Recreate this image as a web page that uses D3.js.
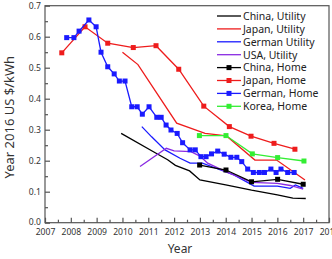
<!DOCTYPE html>
<html><head><meta charset="utf-8">
<script src="https://cdn.jsdelivr.net/npm/d3@7"></script>
<style>body{margin:0;background:#fff}svg{display:block}text{font-family:"Noto Sans",sans-serif}</style>
</head><body><svg id="c" width="332" height="259"></svg>
<script>
const xTicks = [2007,2008,2009,2010,2011,2012,2013,2014,2015,2016,2017,2018];
const yTicks = [0.0,0.1,0.2,0.3,0.4,0.5,0.6,0.7];

const chinaUtilityX = [2009.95,2011.2,2011.75,2012.05,2012.6,2013.0,2014.0,2015.0,2016.0,2016.6,2017.1];
const chinaUtilityY = [0.288,0.229,0.203,0.185,0.167,0.138,0.122,0.105,0.09,0.079,0.078];
const japanUtilityX = [2010.0,2010.6,2012.1,2013.2,2014.03,2015.13,2015.97,2017.07];
const japanUtilityY = [0.55,0.51,0.321,0.288,0.28,0.202,0.202,0.138];
const germanUtilityX = [2010.75,2011.13,2011.65,2012.23,2012.62,2013.1,2013.8,2014.3,2015.1,2016.0,2016.5,2016.7,2017.0];
const germanUtilityY = [0.31,0.277,0.235,0.208,0.192,0.192,0.17,0.155,0.118,0.118,0.111,0.122,0.111];
const usaUtilityX = [2010.68,2011.7,2012.0,2012.65,2013.0,2013.3,2014.0,2015.0,2016.0,2016.5,2017.0];
const usaUtilityY = [0.181,0.24,0.232,0.229,0.215,0.192,0.165,0.13,0.127,0.12,0.108];

const chinaHomeX = [2012.99,2014.01,2015.0,2016.01,2017.0];
const chinaHomeY = [0.186,0.17,0.132,0.14,0.124];
const japanHomeX = [2007.65,2008.55,2009.43,2010.42,2011.3,2012.18,2013.15,2014.14,2014.98,2015.87,2016.68];
const japanHomeY = [0.548,0.632,0.579,0.565,0.571,0.495,0.376,0.31,0.279,0.256,0.237];
const germanHomeX = [2007.84,2008.12,2008.32,2008.7,2008.98,2009.17,2009.43,2009.68,2009.88,2010.1,2010.36,2010.57,2010.77,2011.03,2011.33,2011.5,2011.69,2011.88,2012.12,2012.33,2012.62,2012.82,2013.04,2013.24,2013.45,2013.69,2013.94,2014.2,2014.43,2014.62,2014.85,2015.07,2015.3,2015.5,2015.75,2015.95,2016.14,2016.4,2016.65];
const germanHomeY = [0.597,0.597,0.618,0.654,0.632,0.55,0.503,0.48,0.457,0.457,0.374,0.374,0.35,0.374,0.34,0.34,0.315,0.299,0.288,0.258,0.235,0.235,0.213,0.213,0.222,0.231,0.221,0.211,0.211,0.197,0.173,0.162,0.162,0.162,0.173,0.162,0.173,0.162,0.162];
const koreaHomeX = [2012.98,2014.01,2015.03,2016.01,2017.03];
const koreaHomeY = [0.281,0.281,0.222,0.21,0.199];

const seriesNames = ["China, Utility","Japan, Utility","German  Utility","USA, Utility","China, Home","Japan, Home","German, Home","Korea, Home"];
const seriesColors = ["#000000","#ee1c1c","#1a1aff","#8a2be2","#000000","#ee1c1c","#1a1aff","#33ee33"];
const seriesMarkers = [false,false,false,false,true,true,true,true];
const seriesX = [chinaUtilityX,japanUtilityX,germanUtilityX,usaUtilityX,chinaHomeX,japanHomeX,germanHomeX,koreaHomeX];
const seriesY = [chinaUtilityY,japanUtilityY,germanUtilityY,usaUtilityY,chinaHomeY,japanHomeY,germanHomeY,koreaHomeY];

const svg = d3.select("#c");
const L=45,R=329,T=5.7,B=222.7;
const x = d3.scaleLinear().domain([2007,2018]).range([L,R]);
const y = d3.scaleLinear().domain([0,0.7]).range([B,T]);
const axisCol="#555";

svg.append("rect").attr("x",L).attr("y",T).attr("width",R-L).attr("height",B-T)
  .attr("fill","none").attr("stroke",axisCol).attr("stroke-width",1.2);

const xa = svg.append("g").attr("transform",`translate(0,${B})`)
  .call(d3.axisBottom(x).tickValues(xTicks).tickFormat(d3.format("d")).tickSize(-5).tickPadding(6.5));
const xm = svg.append("g").attr("transform",`translate(0,${B})`)
  .call(d3.axisBottom(x).tickValues(xTicks.slice(0,-1).map(d=>d+0.5)).tickFormat("").tickSize(-3));
const ya = svg.append("g").attr("transform",`translate(${L},0)`)
  .call(d3.axisLeft(y).tickValues(yTicks).tickFormat(d3.format(".1f")).tickSize(-5).tickPadding(4));
const ym = svg.append("g").attr("transform",`translate(${L},0)`)
  .call(d3.axisLeft(y).tickValues(yTicks.slice(0,-1).map(d=>d+0.05)).tickFormat("").tickSize(-3));
[xa,xm,ya,ym].forEach(g=>{
  g.select(".domain").remove();
  g.selectAll("line").attr("stroke",axisCol).attr("stroke-width",1.2);
  g.selectAll("text").attr("fill","#333").style("font-size","8.6px").style("font-family","'Noto Sans',sans-serif");
});
ya.selectAll("text").filter(d=>d===0).attr("dy","0.2em");

svg.append("text").attr("x",180).attr("y",253).attr("text-anchor","middle")
  .style("font-size","12px").attr("fill","#333").text("Year");
svg.append("text").attr("transform",`translate(14,${(T+B)/2+3}) rotate(-90)`).attr("text-anchor","middle")
  .style("font-size","13px").attr("fill","#333").text("Year 2016 US $/kWh");

const line = d3.line().x(d=>x(d[0])).y(d=>y(d[1]));
seriesNames.forEach((n,i)=>{
  const pts = seriesX[i].map((v,k)=>[v,seriesY[i][k]]);
  svg.append("path").datum(pts).attr("d",line).attr("fill","none")
    .attr("stroke",seriesColors[i]).attr("stroke-width",1.3);
  if(seriesMarkers[i]){
    svg.append("g").selectAll("rect").data(pts).join("rect")
      .attr("x",d=>x(d[0])-2.5).attr("y",d=>y(d[1])-2.5).attr("width",5).attr("height",5)
      .attr("fill",seriesColors[i]);
  }
});

const lg = svg.append("g");
seriesNames.forEach((n,i)=>{
  const yy = 16 + i*12.9;
  lg.append("line").attr("x1",217).attr("x2",241).attr("y1",yy).attr("y2",yy)
    .attr("stroke",seriesColors[i]).attr("stroke-width",1.3);
  if(seriesMarkers[i]) lg.append("rect").attr("x",226.5).attr("y",yy-2.5).attr("width",5).attr("height",5).attr("fill",seriesColors[i]);
  lg.append("text").attr("x",243).attr("y",yy+3.8).style("font-size","10.5px").attr("fill","#222").text(n);
});
</script></body></html>
